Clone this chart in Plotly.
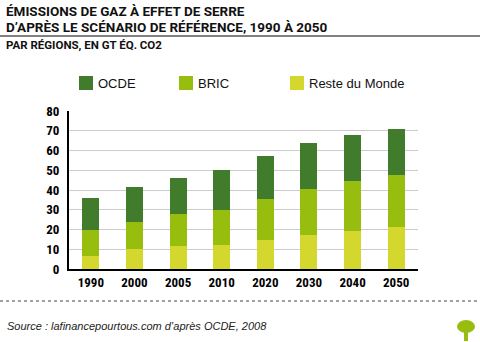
import plotly.graph_objects as go

years = ["1990", "2000", "2005", "2010", "2020", "2030", "2040", "2050"]
reste = [6.7, 9.9, 11.6, 12.3, 14.9, 17.0, 19.3, 21.3]
bric = [13.3, 14.0, 16.1, 17.8, 20.6, 23.5, 25.4, 26.1]
ocde = [16.1, 17.8, 18.5, 19.8, 21.8, 23.2, 23.4, 23.4]
series_names = ["OCDE", "BRIC", "Reste du Monde"]
colors = {"OCDE": "#407c2b", "BRIC": "#97be0e", "Reste du Monde": "#d4d82e"}

COND = "Roboto Condensed, Liberation Sans Narrow, Roboto, sans-serif"
TITLE = "Roboto, Liberation Sans, sans-serif"
SANS = "Liberation Sans, DejaVu Sans, sans-serif"

L, R, T, B = 69, 62, 111, 73
PW, PH = 480 - L - R, 342 - T - B


def px(x):
    return (x - L) / PW


def py(y):
    return (342 - B - y) / PH


fig = go.Figure()
for name, vals in [("Reste du Monde", reste), ("BRIC", bric), ("OCDE", ocde)]:
    fig.add_trace(go.Bar(x=years, y=vals, name=name, marker_color=colors[name],
                         marker_line_width=0, width=0.39, showlegend=False))

fig.update_layout(
    barmode="stack",
    width=480, height=342,
    margin=dict(l=L, r=R, t=T, b=B),
    paper_bgcolor="white", plot_bgcolor="white",
    xaxis=dict(showline=True, linecolor="black", linewidth=2, ticks="",
               tickfont=dict(family=COND, size=13, color="black", weight="bold")),
    yaxis=dict(range=[0, 80], dtick=10, showline=True, linecolor="black", linewidth=2,
               showgrid=True, gridcolor="#cccccc", gridwidth=1, zeroline=False,
               ticks="", ticklabelstandoff=5,
               tickfont=dict(family=COND, size=13, color="black", weight="bold")),
)

# Titles
title_lines = ["ÉMISSIONS DE GAZ À EFFET DE SERRE",
               "D’APRÈS LE SCÉNARIO DE RÉFÉRENCE, 1990 À 2050"]
for line, yc in zip(title_lines, [11, 27]):
    fig.add_annotation(x=px(4), y=py(yc), xref="paper", yref="paper", xanchor="left",
                       yanchor="middle", showarrow=False, text=f"<b>{line}</b>",
                       font=dict(family=TITLE, size=13.5, color="#111111"))
fig.add_annotation(x=px(4), y=py(45), xref="paper", yref="paper", xanchor="left", yanchor="middle",
                   showarrow=False,
                   text="<b>PAR RÉGIONS, EN GT ÉQ. CO2</b>",
                   font=dict(family=TITLE, size=11.5, color="#111111"))

# separator under title
fig.add_shape(type="line", xref="paper", yref="paper", x0=px(0), x1=px(480),
              y0=py(36), y1=py(36), line=dict(color="#808080", width=2))

# Legend (manual)
leg_x = [79, 179, 290]
for nm, lx in zip(series_names, leg_x):
    fig.add_shape(type="rect", xref="paper", yref="paper", x0=px(lx), x1=px(lx + 14),
                  y0=py(90), y1=py(76), fillcolor=colors[nm], line_width=0)
    fig.add_annotation(x=px(lx + 17), y=py(83), xref="paper", yref="paper",
                       xanchor="left", yanchor="middle", showarrow=False, text=nm,
                       font=dict(family=SANS, size=13, color="#111111"))

# dotted line & source
fig.add_shape(type="line", xref="paper", yref="paper", x0=px(0), x1=px(480),
              y0=py(301), y1=py(301),
              line=dict(color="#444444", width=1, dash="dot"))
fig.add_annotation(x=px(5), y=py(326), xref="paper", yref="paper", xanchor="left",
                   yanchor="middle", showarrow=False,
                   text="<i>Source : lafinancepourtous.com d’après OCDE, 2008</i>",
                   font=dict(family=SANS, size=11, color="#222222"))

# small tree logo
fig.add_shape(type="circle", xref="paper", yref="paper", x0=px(457), x1=px(475),
              y0=py(333), y1=py(320), fillcolor="#97be0e", line_width=0)
fig.add_shape(type="rect", xref="paper", yref="paper", x0=px(464), x1=px(468),
              y0=py(341), y1=py(328), fillcolor="#97be0e", line_width=0)

fig.write_html("out.html")
